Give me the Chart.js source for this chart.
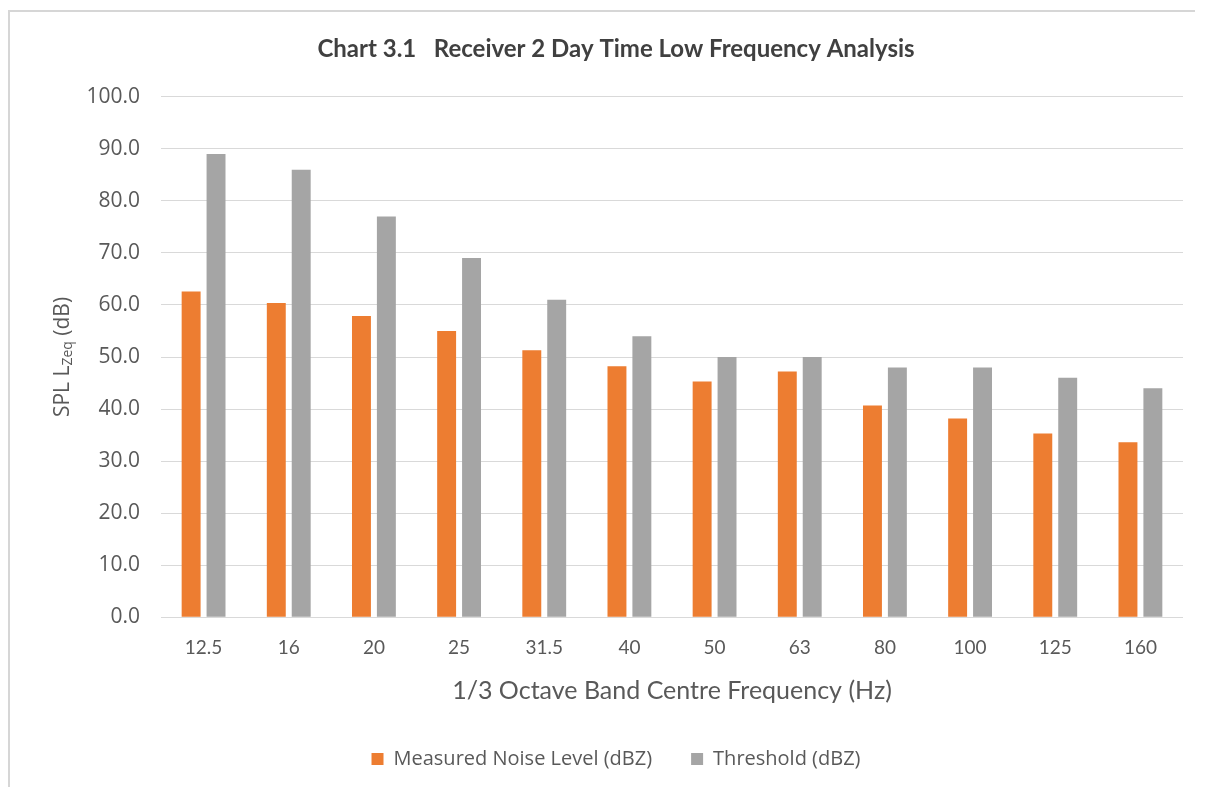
<!DOCTYPE html>
<html>
<head>
<meta charset="utf-8">
<script src="https://cdn.jsdelivr.net/npm/chart.js@4.4.1/dist/chart.umd.min.js"></script>
<style>
  html, body { margin: 0; padding: 0; background: #fff; }
  #wrap { position: relative; width: 1212px; height: 787px; }
</style>
</head>
<body>
<div id="wrap"><canvas id="chart"></canvas></div>
<script>
const frequencies = ['12.5', '16', '20', '25', '31.5', '40', '50', '63', '80', '100', '125', '160'];
const measured = [62.6, 60.4, 57.9, 55.0, 51.3, 48.2, 45.3, 47.2, 40.7, 38.2, 35.3, 33.6];
const threshold = [89, 86, 77, 69, 61, 54, 50, 50, 48, 48, 46, 44];

const TEXT = '#595959';

// frame lines + rotated y title with subscript
const decor = {
  id: 'decor',
  beforeDraw(chart) {
    const ctx = chart.ctx;
    ctx.save();
    ctx.fillStyle = '#fff';
    ctx.fillRect(0, 0, chart.width, chart.height);
    ctx.strokeStyle = '#d6d6d6';
    ctx.lineWidth = 2;
    ctx.beginPath();
    ctx.moveTo(9, chart.height);
    ctx.lineTo(9, 11);
    ctx.lineTo(1195, 11);
    ctx.stroke();
    ctx.restore();
  },
  afterDraw(chart) {
    const ctx = chart.ctx;
    const area = chart.chartArea;
    const main = '21px "Open Sans"';
    const sub = '14px "Open Sans"';
    ctx.save();
    ctx.font = main;
    const w1 = ctx.measureText('SPL L').width;
    const w3 = ctx.measureText(' (dB)').width;
    ctx.font = sub;
    const w2 = ctx.measureText('Zeq').width;
    const total = w1 + w2 + w3;
    ctx.translate(63, (area.top + area.bottom) / 2);
    ctx.rotate(-Math.PI / 2);
    ctx.fillStyle = TEXT;
    let x = -total / 2;
    ctx.font = main;
    ctx.fillText('SPL L', x, 0);
    x += w1;
    ctx.font = sub;
    ctx.fillText('Zeq', x, 5);
    x += w2;
    ctx.font = main;
    ctx.fillText(' (dB)', x, 0);
    ctx.restore();
  }
};

new Chart(document.getElementById('chart'), {
  type: 'bar',
  data: {
    labels: frequencies,
    datasets: [
      {
        label: 'Measured Noise Level (dBZ)',
        data: measured,
        backgroundColor: '#ED7D31',
        categoryPercentage: 0.585,
        barPercentage: 0.76,
      },
      {
        label: 'Threshold (dBZ)',
        data: threshold,
        backgroundColor: '#A5A5A5',
        categoryPercentage: 0.585,
        barPercentage: 0.76,
      },
    ],
  },
  options: {
    responsive: true,
    maintainAspectRatio: false,
    animation: false,
    layout: { padding: { left: 49, right: 29, top: 0, bottom: 8 } },
    plugins: {
      tooltip: { enabled: false },
      title: {
        display: true,
        text: 'Chart 3.1   Receiver 2 Day Time Low Frequency Analysis',
        color: '#404040',
        font: { family: 'Lato', size: 24, weight: 'bold' },
        padding: { top: 35, bottom: 33 },
      },
      legend: {
        position: 'bottom',
        labels: {
          color: TEXT,
          font: { family: 'Open Sans', size: 20 },
          boxWidth: 12,
          boxHeight: 12,
          padding: 39,
        },
      },
    },
    scales: {
      x: {
        grid: { display: false },
        border: { display: false },
        ticks: {
          color: TEXT,
          font: { family: 'Lato', size: 19 },
          padding: 11,
        },
        title: {
          display: true,
          text: '1/3 Octave Band Centre Frequency (Hz)',
          color: TEXT,
          font: { family: 'Lato', size: 25 },
          padding: { top: 6, bottom: 4 },
        },
      },
      y: {
        min: 0,
        max: 100,
        afterFit(scale) { scale.width = 112; },
        grid: { color: '#d9d9d9', lineWidth: 1, drawTicks: false },
        border: { display: false },
        ticks: {
          stepSize: 10,
          color: TEXT,
          font: { family: 'Open Sans', size: 21 },
          padding: 21,
          callback: (v) => v.toFixed(1),
        },
      },
    },
  },
  plugins: [decor],
});
</script>
</body>
</html>
